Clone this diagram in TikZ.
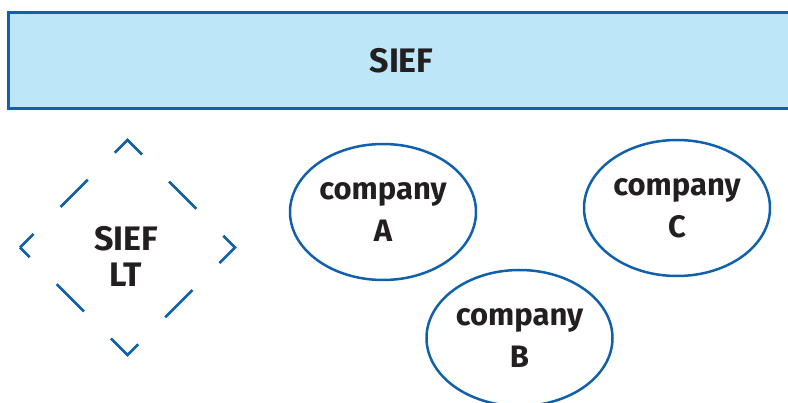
\documentclass[tikz,border=0pt]{standalone}
\usepackage{fontspec}
\setmainfont{Fira Sans}
\usetikzlibrary{shapes.geometric, positioning}

\definecolor{siefblue}{HTML}{1160AC}
\definecolor{sieffill}{HTML}{BEE6F9}
\definecolor{ink}{HTML}{231F20}

\begin{document}
\begin{tikzpicture}[x=1pt, y=-1pt]
	\tikzset{
		band/.style={
			draw=siefblue,
			fill=sieffill,
			line width=3pt,
			minimum width=786pt,
			minimum height=96pt,
			inner sep=0pt,
			text=ink,
			font=\fontsize{34}{36}\selectfont\bfseries
		},
		lt shape/.style={
			diamond,
			minimum width=215pt,
			minimum height=215pt,
			inner sep=0pt,
			outer sep=0pt
		},
		lt border/.style={
			draw=siefblue,
			line width=2.5pt,
			line join=miter,
			dash pattern=on 38.5pt off 38.2pt,
			dash phase=19.25pt
		},
		lt text/.style={
			align=center,
			text=ink,
			font=\fontsize{34}{36}\selectfont\bfseries
		},
		company/.style={
			ellipse,
			draw=siefblue,
			line width=2.5pt,
			minimum width=186pt,
			minimum height=136pt,
			inner sep=0pt,
			align=center,
			text=ink,
			font=\fontsize{31}{42}\selectfont\bfseries
		},
	}

	\clip (0,0) rectangle (788,403);

	\node[band] (sief) at (401.5,60.5) {SIEF};

	% lead team
	\node[lt shape] (lt) at (127.5,247.5) {};
	\draw[lt border] (lt.west) -- (lt.north) -- (lt.east) -- (lt.south) -- cycle;
	\node[lt text] (ltname) at (126,256) {SIEF\\LT};

	% members
	\node[company] (A) at (383,212) {company\\A};
	\node[company, right=105.5pt of A, yshift=4pt] (C) {company\\C};
	\node[company] (B) at (519.5,338) {company\\B};
\end{tikzpicture}
\end{document}
